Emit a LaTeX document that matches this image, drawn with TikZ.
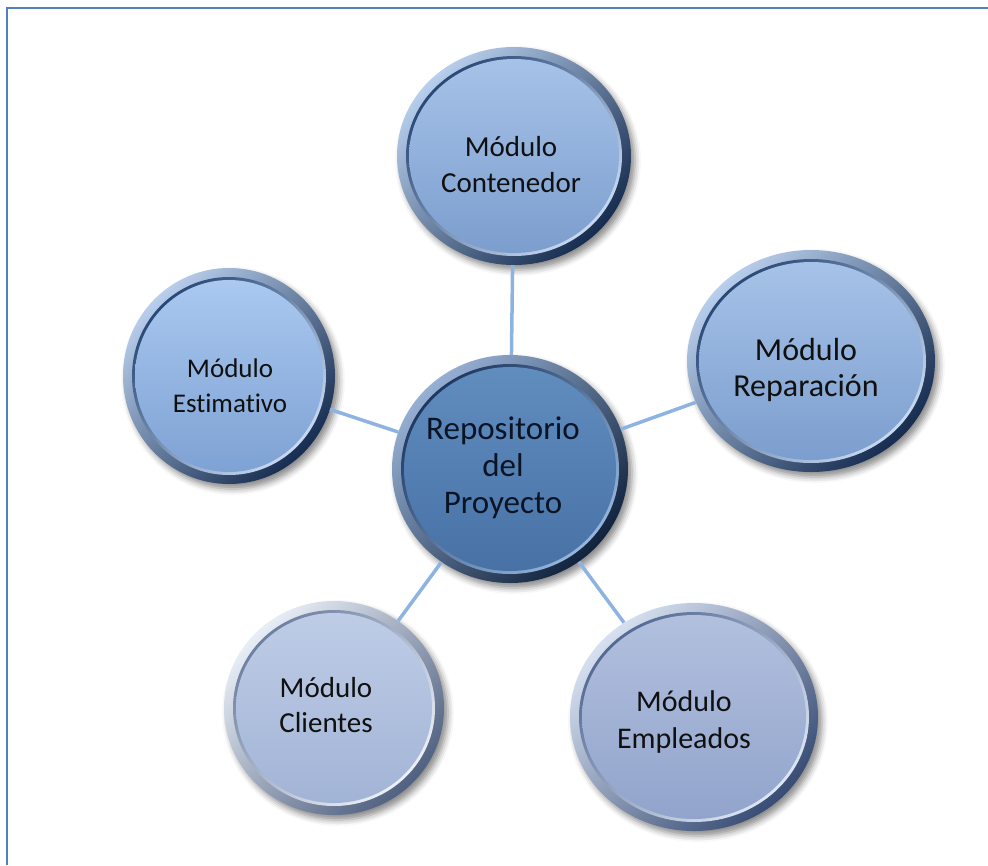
\documentclass[tikz,border=0pt]{standalone}
\usepackage{fontspec}
\setmainfont{Carlito}[Ligatures=NoCommon]
\usetikzlibrary{shapes.geometric,shadows.blur}
\definecolor{conncol}{HTML}{8DB3E2}
\definecolor{framecol}{HTML}{4F81BD}
\definecolor{txtcol}{HTML}{101010}
\tikzset{
  rrx/.store in=\rrx, rry/.store in=\rry,
  rimA/.code={\colorlet{rimAc}{#1}}, rimB/.code={\colorlet{rimBc}{#1}},
  grvA/.code={\colorlet{grvAc}{#1}}, grvB/.code={\colorlet{grvBc}{#1}},
  faceA/.code={\colorlet{faceAc}{#1}}, faceB/.code={\colorlet{faceBc}{#1}},
  modnode/.style={ellipse, inner sep=0pt,
    minimum width=2*\rrx pt, minimum height=2*\rry pt,
    top color=rimAc, bottom color=rimBc, shading angle=45,
    blur shadow={shadow xshift=4pt, shadow yshift=-5pt, shadow blur radius=6pt, shadow opacity=45},
    path picture={
      \coordinate (pc) at (path picture bounding box.center);
      \shade[top color=grvAc, bottom color=grvBc, shading angle=45]
        (pc) ellipse [x radius=\rrx pt-9pt, y radius=\rry pt-9pt];
      \shade[top color=faceAc, bottom color=faceBc]
        (pc) ellipse [x radius=\rrx pt-12pt, y radius=\rry pt-12pt];
    }},
  bluemod/.style={rimA={rgb,255:red,184;green,206;blue,236}, rimB={rgb,255:red,22;green,44;blue,80},
    grvA={rgb,255:red,40;green,72;blue,118}, grvB={rgb,255:red,200;green,218;blue,242},
    faceA={rgb,255:red,166;green,194;blue,232}, faceB={rgb,255:red,124;green,158;blue,206}},
  lbl/.style={align=center, inner sep=0pt, text=txtcol},
  conn/.style={draw=conncol, line width=3.5pt},
  framestyle/.style={draw=framecol, line width=2.5pt}
}
\begin{document}
\begin{tikzpicture}[x=1pt,y=-1pt]
\useasboundingbox (0,0) rectangle (988,865);
\coordinate (fbl) at (7,865);
\coordinate (ftl) at (7,8);
\coordinate (ftr) at (988,8);
\draw[framestyle] (fbl) -- (ftl) -- (ftr);

% rings
\node[rrx=117, rry=109, bluemod, modnode] (cont) at (514,156) {};
\node[rrx=124, rry=111, bluemod, modnode] (repa) at (811,361) {};
\node[rrx=106, rry=108, bluemod, faceA={rgb,255:red,170;green,200;blue,240}, faceB={rgb,255:red,126;green,162;blue,212}, modnode] (esti) at (229,376) {};
\node[rrx=118, rry=114,
  rimA={rgb,255:red,150;green,176;blue,212}, rimB={rgb,255:red,16;green,34;blue,60},
  grvA={rgb,255:red,30;green,56;blue,96}, grvB={rgb,255:red,150;green,182;blue,222},
  faceA={rgb,255:red,96;green,140;blue,190}, faceB={rgb,255:red,72;green,114;blue,166},
  modnode] (hub) at (510,469) {};
\node[rrx=110, rry=107,
  rimA={rgb,255:red,232;green,238;blue,246}, rimB={rgb,255:red,80;green,96;blue,128},
  grvA={rgb,255:red,110;green,128;blue,162}, grvB={rgb,255:red,236;green,240;blue,248},
  faceA={rgb,255:red,190;green,204;blue,230}, faceB={rgb,255:red,162;green,180;blue,214},
  modnode] (clie) at (334,708) {};
\node[rrx=124, rry=114,
  rimA={rgb,255:red,214;green,224;blue,240}, rimB={rgb,255:red,56;green,76;blue,116},
  grvA={rgb,255:red,84;green,106;blue,148}, grvB={rgb,255:red,220;green,230;blue,244},
  faceA={rgb,255:red,178;green,192;blue,222}, faceB={rgb,255:red,146;green,164;blue,204},
  modnode] (empl) at (694,717) {};

% labels
\node[lbl, font=\fontsize{29}{36}\selectfont] (cont-t) at (511,165) {Módulo\\Contenedor};
\node[lbl, font=\fontsize{32}{36}\selectfont] (repa-t) at (806,370) {Módulo\\Reparación};
\node[lbl, font=\fontsize{27}{35}\selectfont] (esti-t) at (230,386) {Módulo\\Estimativo};
\node[lbl, text={rgb,255:red,10;green,20;blue,36}, font=\fontsize{33}{37}\selectfont] (hub-t) at (503,468) {Repositorio\\del\\Proyecto};
\node[lbl, font=\fontsize{29}{35}\selectfont] (clie-t) at (326,705) {Módulo\\Clientes};
\node[lbl, font=\fontsize{30}{37}\selectfont] (empl-t) at (684,722) {Módulo\\Empleados};

% connectors
\draw[conn] (hub) -- (cont);
\draw[conn] (hub) -- (repa);
\draw[conn] (hub) -- (esti);
\draw[conn] (hub) -- (clie);
\draw[conn] (hub) -- (empl);
\end{tikzpicture}
\end{document}
